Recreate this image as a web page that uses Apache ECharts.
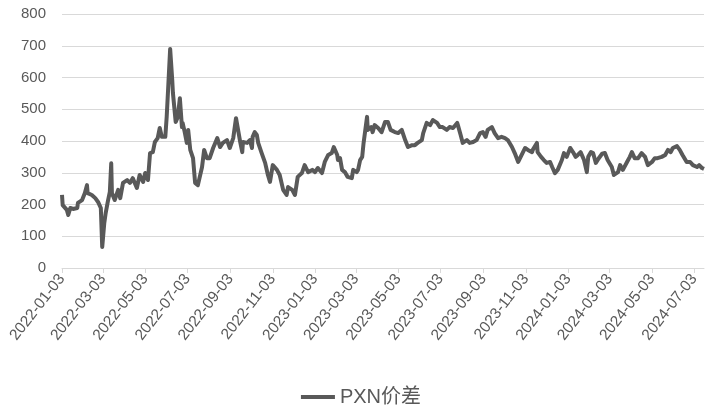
<!DOCTYPE html>
<html>
<head>
<meta charset="utf-8">
<script src="https://cdn.jsdelivr.net/npm/echarts@6/dist/echarts.min.js"></script>
<style>html,body{margin:0;padding:0;background:#fff}#c{width:722px;height:409px}</style>
</head>
<body>
<div id="c"></div>
<script>
const startDate = '2022-01-03';
const endDate = '2024-07-17';
const seriesName = 'PXN价差';
const yTicks = [0, 100, 200, 300, 400, 500, 600, 700, 800];

const dates = [
'2022-01-03','2022-01-04','2022-01-10','2022-01-12','2022-01-15','2022-01-19','2022-01-25','2022-01-26','2022-02-01','2022-02-05',
'2022-02-08','2022-02-09','2022-02-15','2022-02-20','2022-02-24','2022-02-28','2022-03-02','2022-03-05','2022-03-07','2022-03-10',
'2022-03-13','2022-03-15','2022-03-16','2022-03-20','2022-03-25','2022-03-28','2022-04-01','2022-04-07','2022-04-11','2022-04-15',
'2022-04-21','2022-04-25','2022-04-30','2022-05-03','2022-05-07','2022-05-10','2022-05-14','2022-05-17','2022-05-21','2022-05-24',
'2022-05-27','2022-06-01','2022-06-03','2022-06-05','2022-06-08','2022-06-11','2022-06-12','2022-06-16','2022-06-19','2022-06-22',
'2022-06-25','2022-06-26','2022-06-29','2022-07-02','2022-07-04','2022-07-07','2022-07-11','2022-07-14','2022-07-18','2022-07-24',
'2022-07-27','2022-07-31','2022-08-04','2022-08-09','2022-08-15','2022-08-19','2022-08-23','2022-08-29','2022-09-02','2022-09-07',
'2022-09-11','2022-09-17','2022-09-20','2022-09-21','2022-09-27','2022-10-01','2022-10-04','2022-10-05','2022-10-08','2022-10-11',
'2022-10-13','2022-10-18','2022-10-23','2022-10-27','2022-10-30','2022-11-03','2022-11-09','2022-11-13','2022-11-18','2022-11-23',
'2022-11-25','2022-12-01','2022-12-05','2022-12-09','2022-12-15','2022-12-19','2022-12-24','2022-12-30','2023-01-03','2023-01-07',
'2023-01-13','2023-01-17','2023-01-22','2023-01-27','2023-01-30','2023-02-04','2023-02-05','2023-02-08','2023-02-11','2023-02-15',
'2023-02-19','2023-02-25','2023-02-27','2023-03-04','2023-03-06','2023-03-09','2023-03-12','2023-03-14','2023-03-19','2023-03-20',
'2023-03-25','2023-03-27','2023-03-30','2023-04-04','2023-04-09','2023-04-14','2023-04-18','2023-04-22','2023-04-28','2023-05-03',
'2023-05-08','2023-05-13','2023-05-17','2023-05-23','2023-05-27','2023-05-31','2023-06-06','2023-06-08','2023-06-13','2023-06-18',
'2023-06-22','2023-06-28','2023-07-02','2023-07-06','2023-07-12','2023-07-16','2023-07-21','2023-07-27','2023-07-28','2023-08-01',
'2023-08-04','2023-08-10','2023-08-14','2023-08-19','2023-08-24','2023-08-29','2023-09-02','2023-09-06','2023-09-09','2023-09-15',
'2023-09-19','2023-09-24','2023-09-29','2023-10-04','2023-10-08','2023-10-14','2023-10-18','2023-10-23','2023-10-28','2023-11-02',
'2023-11-06','2023-11-12','2023-11-13','2023-11-19','2023-11-20','2023-11-25','2023-11-29','2023-12-03','2023-12-08','2023-12-11',
'2023-12-15','2023-12-19','2023-12-25','2023-12-28','2024-01-01','2024-01-06','2024-01-10','2024-01-14','2024-01-17','2024-01-21',
'2024-01-26','2024-01-30','2024-02-01','2024-02-05','2024-02-08','2024-02-12','2024-02-16','2024-02-21','2024-02-25','2024-02-29',
'2024-03-06','2024-03-09','2024-03-15','2024-03-18','2024-03-22','2024-03-28','2024-04-01','2024-04-04','2024-04-08','2024-04-13',
'2024-04-18','2024-04-23','2024-04-27','2024-05-03','2024-05-07','2024-05-11','2024-05-17','2024-05-22','2024-05-26','2024-05-30',
'2024-06-02','2024-06-08','2024-06-12','2024-06-16','2024-06-22','2024-06-27','2024-07-01','2024-07-07','2024-07-10','2024-07-14',
'2024-07-17'
];
const values = [
230,198,183,167,189,186,189,205,214,236,
261,236,230,220,208,189,66,142,173,208,
240,330,236,214,246,220,268,277,268,283,
252,293,271,299,277,362,365,397,409,441,
413,413,476,561,690,592,551,460,476,535,
444,457,428,394,435,372,346,268,261,318,
372,346,346,378,409,381,394,403,378,409,
472,397,365,397,394,403,378,413,428,419,
394,362,331,293,271,324,309,293,246,230,
255,246,230,287,299,324,302,309,302,315,
299,334,356,362,381,356,340,346,309,302,
287,283,309,302,309,340,350,394,476,435,
444,428,450,441,428,460,460,435,428,425,
435,403,381,387,387,394,403,425,457,450,
466,457,444,444,435,444,441,457,450,419,
394,403,394,397,403,425,428,413,435,444,
425,409,413,409,403,381,362,334,356,378,
372,365,372,394,365,350,340,331,334,318,
299,309,340,362,350,378,365,350,356,365,
340,302,350,365,362,331,345,360,362,340,
318,293,302,324,309,334,350,365,346,346,
362,350,324,334,346,346,350,356,372,365,
378,384,372,356,334,334,324,318,324,315,
312
];

// calendar-day category axis (Excel date axis)
const categories = [];
{
  const s = new Date(startDate + 'T00:00:00Z'), e = new Date(endDate + 'T00:00:00Z');
  for (let d = s; d <= e; d = new Date(d.getTime() + 86400000)) {
    categories.push(d.toISOString().slice(0, 10));
  }
}
const isTickDate = (v) => {
  const m = parseInt(v.slice(5, 7), 10);
  return v.slice(8, 10) === '03' && m % 2 === 1;
};

const chart = echarts.init(document.getElementById('c'), null, {renderer: 'canvas'});
chart.setOption({
  animation: false,
  textStyle: {fontFamily: 'Liberation Sans, Noto Sans CJK SC, sans-serif'},
  grid: {left: 62, right: 18, top: 14, bottom: 141, containLabel: false},
  legend: {
    data: [seriesName],
    top: 382,
    left: 'center',
    icon: 'rect',
    itemWidth: 34,
    itemHeight: 4,
    itemGap: 4,
    textStyle: {fontSize: 20, color: '#595959', fontFamily: 'Liberation Sans, Noto Sans CJK SC, sans-serif'}
  },
  xAxis: {
    type: 'category',
    data: categories,
    boundaryGap: false,
    axisLine: {lineStyle: {color: '#d9d9d9', width: 1}},
    axisTick: {show: true, interval: (i, v) => isTickDate(v), length: 5, lineStyle: {color: '#d9d9d9'}},
    axisLabel: {interval: (i, v) => isTickDate(v), rotate: 52, color: '#595959', fontSize: 15.5, margin: 8}
  },
  yAxis: {
    type: 'value',
    min: yTicks[0],
    max: yTicks[yTicks.length - 1],
    interval: 100,
    axisLine: {show: false},
    axisTick: {show: false},
    axisLabel: {color: '#595959', fontSize: 15, margin: 16},
    splitLine: {lineStyle: {color: '#d9d9d9', width: 1}}
  },
  series: [{
    name: seriesName,
    type: 'line',
    data: dates.map((d, i) => [d, values[i]]),
    showSymbol: false,
    symbol: 'none',
    lineStyle: {color: '#595959', width: 4, join: 'round'},
    itemStyle: {color: '#595959'}
  }]
});
</script>
</body>
</html>
